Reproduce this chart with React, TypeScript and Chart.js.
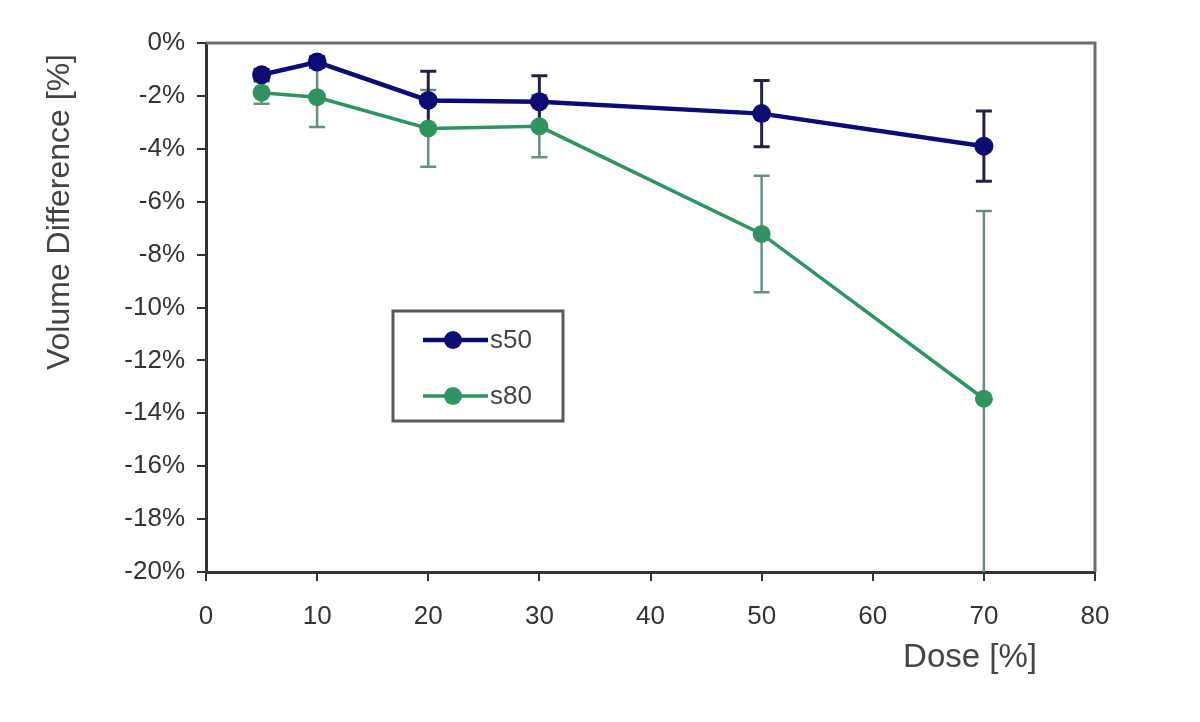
import React, { useEffect, useRef } from "react";
import { Chart, registerables } from "chart.js";

Chart.register(...registerables);

const doses = [5, 10, 20, 30, 50, 70];
const s50Values = [-1.2, -0.72, -2.17, -2.22, -2.67, -3.9];
const s50Errors = [0.2, 0.2, 1.1, 0.98, 1.25, 1.33];
const s80Values = [-1.88, -2.05, -3.23, -3.15, -7.22, -13.45];
const s80Errors = [0.42, 1.13, 1.45, 1.17, 2.2, 7.1];
const seriesLabels = ["s50", "s80"];
const xTitle = "Dose [%]";
const yTitle = "Volume Difference [%]";

const FONT = "'Liberation Sans', Arial, sans-serif";
const NAVY = "#0c0c72";
const GREEN = "#2f9362";

const errorBarPlugin = {
  id: "errorBars",
  beforeDatasetsDraw(chart: any) {
    const { ctx, chartArea, scales } = chart;
    const x = scales.x;
    const y = scales.y;
    ctx.save();
    ctx.beginPath();
    ctx.rect(chartArea.left, chartArea.top, chartArea.right - chartArea.left, chartArea.bottom - chartArea.top);
    ctx.clip();
    const sets = [
      { vals: s80Values, errs: s80Errors, color: "#6a8f7c", width: 2.5 },
      { vals: s50Values, errs: s50Errors, color: "#23233e", width: 3 },
    ];
    sets.forEach((s) => {
      ctx.strokeStyle = s.color;
      ctx.lineWidth = s.width;
      doses.forEach((d, i) => {
        const px = x.getPixelForValue(d);
        const top = y.getPixelForValue(s.vals[i] + s.errs[i]);
        const bot = y.getPixelForValue(s.vals[i] - s.errs[i]);
        ctx.beginPath();
        ctx.moveTo(px, top);
        ctx.lineTo(px, bot);
        ctx.moveTo(px - 8, top);
        ctx.lineTo(px + 8, top);
        ctx.moveTo(px - 8, bot);
        ctx.lineTo(px + 8, bot);
        ctx.stroke();
      });
    });
    ctx.restore();
  },
};

const framePlugin = {
  id: "frameAndText",
  afterDraw(chart: any) {
    const { ctx, chartArea } = chart;
    ctx.save();
    // top and right frame
    ctx.strokeStyle = "#6e6e6e";
    ctx.lineWidth = 3;
    ctx.beginPath();
    ctx.moveTo(chartArea.left, chartArea.top);
    ctx.lineTo(chartArea.right, chartArea.top);
    ctx.lineTo(chartArea.right, chartArea.bottom);
    ctx.stroke();

    // axis titles
    ctx.fillStyle = "#444";
    ctx.textAlign = "center";
    ctx.textBaseline = "middle";
    ctx.font = `33px ${FONT}`;
    ctx.fillText(xTitle, 970, 658);
    ctx.save();
    ctx.translate(60, 212);
    ctx.rotate(-Math.PI / 2);
    ctx.font = `32px ${FONT}`;
    ctx.fillText(yTitle, 0, 0);
    ctx.restore();

    // legend
    const bx = chartArea.left + 187;
    const by = chartArea.top + 268;
    const bw = 170;
    const bh = 110;
    ctx.fillStyle = "#ffffff";
    ctx.fillRect(bx, by, bw, bh);
    ctx.strokeStyle = "#5a5a5a";
    ctx.lineWidth = 3;
    ctx.strokeRect(bx, by, bw, bh);
    const items = [
      { label: chart.data.datasets[0].label, color: NAVY, lw: 4.5, y: by + 29 },
      { label: chart.data.datasets[1].label, color: GREEN, lw: 3.5, y: by + 85 },
    ];
    items.forEach((it) => {
      ctx.strokeStyle = it.color;
      ctx.lineWidth = it.lw;
      ctx.beginPath();
      ctx.moveTo(bx + 30, it.y);
      ctx.lineTo(bx + 95, it.y);
      ctx.stroke();
      ctx.fillStyle = it.color;
      ctx.beginPath();
      ctx.arc(bx + 60, it.y, 9, 0, Math.PI * 2);
      ctx.fill();
      ctx.fillStyle = "#444";
      ctx.textAlign = "left";
      ctx.font = `26px ${FONT}`;
      ctx.fillText(it.label, bx + 97, it.y + 1);
    });
    ctx.restore();
  },
};

export default function App() {
  const ref = useRef<HTMLCanvasElement | null>(null);
  useEffect(() => {
    document.body.style.margin = "0";
    const canvas = ref.current;
    if (!canvas) return;
    const chart = new Chart(canvas, {
      type: "line",
      data: {
        datasets: [
          {
            label: seriesLabels[0],
            data: doses.map((d, i) => ({ x: d, y: s50Values[i] })),
            borderColor: NAVY,
            backgroundColor: NAVY,
            borderWidth: 4.5,
            pointRadius: 9.5,
            pointBorderWidth: 0,
            pointBackgroundColor: NAVY,
            tension: 0,
          },
          {
            label: seriesLabels[1],
            data: doses.map((d, i) => ({ x: d, y: s80Values[i] })),
            borderColor: GREEN,
            backgroundColor: GREEN,
            borderWidth: 3.5,
            pointRadius: 9,
            pointBorderWidth: 0,
            pointBackgroundColor: GREEN,
            tension: 0,
          },
        ],
      },
      options: {
        animation: false,
        responsive: false,
        maintainAspectRatio: false,
        layout: { padding: { left: 0, top: 43, right: 105, bottom: 0 } },
        plugins: { legend: { display: false }, tooltip: { enabled: false } },
        scales: {
          x: {
            type: "linear",
            min: 0,
            max: 80,
            ticks: {
              stepSize: 10,
              color: "#333",
              font: { family: FONT, size: 26 },
              padding: 20,
            },
            grid: { drawOnChartArea: false, drawTicks: true, tickLength: 9, color: "#333", lineWidth: 2 },
            border: { display: true, color: "#333", width: 3 },
            afterFit(scale: any) {
              scale.height = 150;
            },
          },
          y: {
            type: "linear",
            min: -20,
            max: 0,
            ticks: {
              stepSize: 2,
              color: "#333",
              font: { family: FONT, size: 26 },
              padding: 12,
              callback: (v: any) => `${v}%`,
            },
            grid: { drawOnChartArea: false, drawTicks: true, tickLength: 9, color: "#333", lineWidth: 2 },
            border: { display: true, color: "#333", width: 3 },
            afterFit(scale: any) {
              scale.width = 206;
            },
          },
        },
      },
      plugins: [errorBarPlugin, framePlugin],
    } as any);
    return () => chart.destroy();
  }, []);
  return (
    <div style={{ position: "absolute", left: 0, top: 0, width: 1200, height: 722, background: "#fff" }}>
      <canvas ref={ref} width={1200} height={722} />
    </div>
  );
}
